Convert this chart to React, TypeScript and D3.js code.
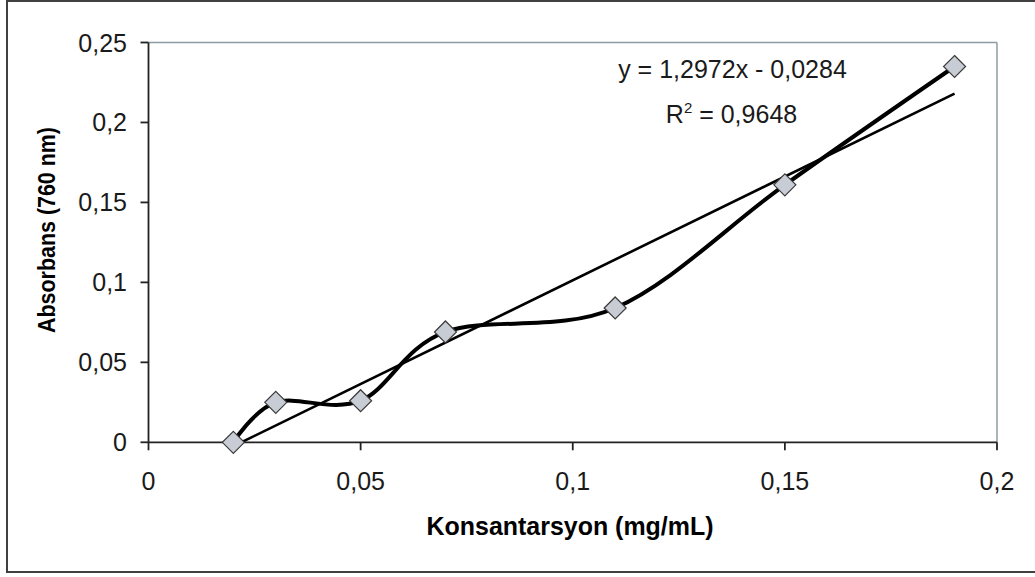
import React from "react";
import * as d3 from "d3";

const concentration = [0.02, 0.03, 0.05, 0.07, 0.11, 0.15, 0.19];
const absorbance = [0, 0.025, 0.026, 0.069, 0.084, 0.161, 0.235];
const xTicks = [0, 0.05, 0.1, 0.15, 0.2];
const xTickLabels = ["0", "0,05", "0,1", "0,15", "0,2"];
const yTicks = [0, 0.05, 0.1, 0.15, 0.2, 0.25];
const yTickLabels = ["0", "0,05", "0,1", "0,15", "0,2", "0,25"];
const slope = 1.2972;
const intercept = -0.0284;
const eqLabel = "y = 1,2972x - 0,0284";
const r2Label = "0,9648";
const xTitle = "Konsantarsyon (mg/mL)";
const yTitle = "Absorbans (760 nm)";

const W = 1035;
const H = 577;
const FONT = "'Liberation Sans', Arial, sans-serif";

export default function App() {
  const left = 148.5, right = 997, top = 42.5, bottom = 442.3;
  const x = d3.scaleLinear().domain([0, 0.2]).range([left, right]);
  const y = d3.scaleLinear().domain([0, 0.25]).range([bottom, top]);

  const pts: [number, number][] = concentration.map((c, i) => [x(c), y(absorbance[i])]);
  const smooth = d3.line().curve(d3.curveCardinal.tension(0))(pts) || "";
  const xMin = d3.min(concentration) as number;
  const xMax = d3.max(concentration) as number;
  const trend = d3.line()([
    [x(xMin), y(slope * xMin + intercept)],
    [x(xMax), y(slope * xMax + intercept)],
  ]) || "";

  const r = 11;
  const diamond = (cx: number, cy: number) =>
    `M${cx},${cy - r}L${cx + r},${cy}L${cx},${cy + r}L${cx - r},${cy}Z`;

  return (
    <svg width={W} height={H} style={{ position: "absolute", left: 0, top: 0, background: "#fff" }}>
      <rect x={0} y={0} width={W} height={H} fill="#fff" />
      {/* outer chart border */}
      <rect x={7} y={1} width={1040} height={571} fill="none" stroke="#404040" strokeWidth={2} />

      {/* plot area top/right border */}
      <line x1={left} x2={right} y1={top} y2={top} stroke="#8d9ca4" strokeWidth={1.5} />
      <line x1={right} x2={right} y1={top} y2={bottom} stroke="#8d9ca4" strokeWidth={1.5} />

      {/* axes */}
      <line x1={left} x2={left} y1={top} y2={bottom} stroke="#222" strokeWidth={1.8} />
      <line x1={left} x2={right} y1={bottom} y2={bottom} stroke="#222" strokeWidth={1.8} />

      {yTicks.map((t, i) => (
        <g key={"yt" + i}>
          <line x1={left - 8} x2={left} y1={y(t)} y2={y(t)} stroke="#222" strokeWidth={1.8} />
          <text x={127} y={y(t) + 9} textAnchor="end" fontFamily={FONT} fontSize={25} fill="#1a1a1a">
            {yTickLabels[i]}
          </text>
        </g>
      ))}
      {xTicks.map((t, i) => (
        <g key={"xt" + i}>
          <line x1={x(t)} x2={x(t)} y1={bottom} y2={bottom + 8} stroke="#222" strokeWidth={1.8} />
          <text x={x(t)} y={490} textAnchor="middle" fontFamily={FONT} fontSize={25} fill="#1a1a1a">
            {xTickLabels[i]}
          </text>
        </g>
      ))}

      {/* series */}
      <path d={trend} fill="none" stroke="#000" strokeWidth={2.6} />
      <path d={smooth} fill="none" stroke="#000" strokeWidth={4} strokeLinejoin="round" />
      {pts.map((p, i) => (
        <path key={"m" + i} d={diamond(p[0], p[1])} fill="#c8cdd5" stroke="#3a3a3a" strokeWidth={1.2} />
      ))}

      {/* equation */}
      <text x={732.5} y={78} textAnchor="middle" fontFamily={FONT} fontSize={25} fill="#1a1a1a">
        {eqLabel}
      </text>
      <text x={731.5} y={123} textAnchor="middle" fontFamily={FONT} fontSize={25} fill="#1a1a1a">
        R<tspan fontSize={15} dy={-10}>2</tspan>
        <tspan dy={10}> = {r2Label}</tspan>
      </text>

      {/* axis titles */}
      <text x={570} y={535} textAnchor="middle" fontFamily={FONT} fontSize={25} fontWeight="bold" fill="#000"
        textLength={287} lengthAdjust="spacingAndGlyphs">
        {xTitle}
      </text>
      <text transform="translate(55,230) rotate(-90)" textAnchor="middle" fontFamily={FONT} fontSize={23}
        fontWeight="bold" fill="#000" textLength={206} lengthAdjust="spacingAndGlyphs">
        {yTitle}
      </text>
    </svg>
  );
}
